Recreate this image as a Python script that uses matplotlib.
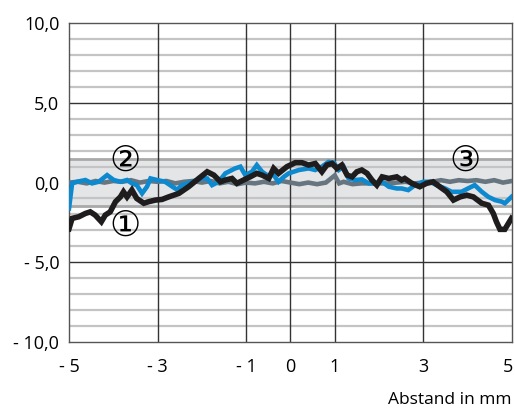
import numpy as np
import matplotlib.pyplot as plt
import matplotlib.transforms as mtransforms

# curve 1 (black)
x1 = [-5.00, -4.93, -4.78, -4.63, -4.52, -4.41, -4.27, -4.18, -4.07, -3.95, -3.84, -3.77,
      -3.69, -3.58, -3.47, -3.31, -3.20, -3.05, -2.90, -2.75, -2.52, -2.30, -2.07, -1.88,
      -1.73, -1.58, -1.47, -1.32, -1.21, -1.06, -0.91, -0.76, -0.64, -0.49, -0.38, -0.27,
      -0.08, 0.11, 0.26, 0.41, 0.56, 0.71, 0.82, 0.94, 1.05, 1.16, 1.28, 1.39, 1.50, 1.61,
      1.73, 1.84, 1.95, 2.07, 2.22, 2.40, 2.51, 2.58, 2.74, 2.92, 3.07, 3.22, 3.37, 3.53,
      3.68, 3.83, 3.98, 4.13, 4.32, 4.47, 4.58, 4.65, 4.73, 4.84, 4.99]
y1 = [-2.9, -2.25, -2.15, -1.94, -1.84, -2.04, -2.46, -2.04, -1.84, -1.2, -0.9, -0.58,
      -0.9, -0.47, -1.0, -1.3, -1.2, -1.1, -1.06, -0.9, -0.68, -0.26, 0.26, 0.68,
      0.47, 0.05, 0.16, 0.26, -0.05, 0.16, 0.36, 0.58, 0.47, 0.26, 0.89, 0.58,
      1.0, 1.25, 1.25, 1.1, 1.2, 0.68, 1.1, 1.2, 0.89, 1.1, 0.47, 0.36, 0.68, 0.79,
      0.58, 0.16, -0.16, 0.36, 0.26, 0.36, 0.16, 0.26, -0.05, -0.26, -0.05, 0.05, -0.26, -0.58,
      -1.1, -0.9, -0.79, -0.9, -1.3, -1.42, -1.94, -2.46, -2.94, -2.94, -2.25]

# curve 2 (blue)
x2 = [-5.00, -4.93, -4.82, -4.63, -4.48, -4.33, -4.14, -3.99, -3.84, -3.69, -3.58, -3.47,
      -3.35, -3.24, -3.16, -3.01, -2.83, -2.67, -2.56, -2.45, -2.22, -2.00, -1.88, -1.77,
      -1.62, -1.47, -1.25, -1.13, -1.02, -0.87, -0.76, -0.64, -0.53, -0.38, -0.27, -0.15,
      -0.04, 0.19, 0.41, 0.56, 0.71, 0.86, 0.98, 1.09, 1.20, 1.31, 1.46, 1.61, 1.77, 1.91,
      2.07, 2.22, 2.40, 2.51, 2.66, 2.81, 3.00, 3.15, 3.30, 3.49, 3.64, 3.86, 4.01, 4.16,
      4.32, 4.47, 4.62, 4.77, 4.84, 4.99]
y2 = [-1.62, -0.05, 0.05, 0.16, -0.05, 0.05, 0.47, 0.16, 0.05, 0.16, -0.05, -0.16,
      -0.68, -0.26, 0.26, 0.16, 0.05, -0.25, -0.45, -0.16, 0.05, 0.26, 0.26, -0.16,
      0.05, 0.58, 0.89, 1.0, 0.47, 0.68, 1.1, 0.68, 0.47, 0.47, 0.05, 0.36,
      0.58, 0.79, 0.89, 0.79, 1.0, 1.3, 1.25, 0.79, 1.0, 0.26, 0.16, 0.2, -0.05, -0.05,
      0.05, -0.26, -0.37, -0.37, -0.47, -0.16, 0.05, 0.05, -0.16, -0.37, -0.58, -0.58, -0.37, -0.16,
      -0.58, -0.9, -1.1, -1.2, -1.3, -0.9]

# curve 3 (grey)
x3 = [-5.0, -4.8, -4.6, -4.4, -4.2, -4.0, -3.8, -3.6, -3.4, -3.2, -3.0, -2.8, -2.6, -2.4,
      -2.2, -2.0, -1.8, -1.6, -1.4, -1.2, -1.0, -0.8, -0.6, -0.4, -0.2, 0.0, 0.2, 0.4,
      0.6, 0.8, 1.0, 1.1, 1.2, 1.4, 1.6, 1.8, 2.0, 2.2, 2.4, 2.6, 2.8, 3.0, 3.2, 3.4,
      3.6, 3.8, 4.0, 4.2, 4.4, 4.6, 4.8, 5.0]
y3 = [0.0, 0.05, -0.05, 0.1, 0.0, 0.1, 0.05, 0.15, 0.0, 0.1, 0.05, 0.1, -0.05, 0.05,
      0.1, 0.0, 0.1, -0.05, 0.05, -0.1, 0.0, -0.05, 0.05, -0.05, 0.1, 0.0, -0.1, 0.0,
      -0.1, 0.0, 0.45, -0.05, 0.05, -0.1, -0.05, -0.05, -0.05, -0.05, 0.0, 0.05, -0.05, 0.0,
      0.05, 0.15, 0.05, 0.15, 0.1, 0.15, 0.05, 0.15, 0.0, 0.1]

xticks = [-5, -3, -1, 0, 1, 3, 5]
xlabels = ['- 5', '- 3', '- 1', '0', '1', '3', '5']
yticks = [-10, -5, 0, 5, 10]
ylabels = ['- 10,0', '- 5,0', '0,0', '5,0', '10,0']
band = 1.5

plt.rcParams['font.family'] = ['Open Sans', 'DejaVu Sans']

fig = plt.figure(figsize=(5.15, 4.19), dpi=100)
ax = fig.add_axes([0.134, 0.1845, 0.86, 0.7595])

ax.axhspan(-band, band, color='#e4e5e7', zorder=0)
for v in range(-9, 10):
    if v % 5 != 0:
        ax.axhline(v, color='#c4c4c4', lw=1.6, zorder=1)
for v in [-5, 5]:
    ax.axhline(v, color='#333333', lw=1.0, zorder=1)
for v in [-band, band]:
    ax.axhline(v, color='#a9a9a9', lw=2.0, zorder=1)
for v in [-3, -1, 0, 1, 3]:
    ax.axvline(v, color='#333333', lw=1.0, zorder=1)

ax.plot(x3, y3, color='#66757f', lw=3.3, zorder=3, solid_joinstyle='miter')
ax.plot(x2, y2, color='#0d89cf', lw=3.3, zorder=4, solid_joinstyle='miter')
ax.plot(x1, y1, color='#1e1c1c', lw=4.0, zorder=5, solid_joinstyle='miter')

ax.text(-3.73, 1.35, '②', fontsize=25, ha='center', va='center', family='DejaVu Sans', zorder=6)
ax.text(-3.73, -2.7, '①', fontsize=25, ha='center', va='center', family='DejaVu Sans', zorder=6)
ax.text(3.95, 1.35, '③', fontsize=25, ha='center', va='center', family='DejaVu Sans', zorder=6)

ax.set_xlim(-5, 5)
ax.set_ylim(-10, 10)
ax.set_xticks(xticks)
ax.set_xticklabels(xlabels)
ax.set_yticks(yticks)
ax.set_yticklabels(ylabels)
ax.tick_params(length=0, labelsize=13)
ax.tick_params(axis='x', pad=12)
ax.tick_params(axis='y', pad=7)
# keep the last x label inside the figure
last = ax.get_xticklabels()[-1]
last.set_transform(last.get_transform() + mtransforms.ScaledTranslation(-4 / 100, 0, fig.dpi_scale_trans))
for s in ax.spines.values():
    s.set_color('#555555')
    s.set_linewidth(1.0)

fig.text(0.994, 0.045, 'Abstand in mm', ha='right', va='center', fontsize=12.5)

fig.savefig('out.png', dpi=100)
